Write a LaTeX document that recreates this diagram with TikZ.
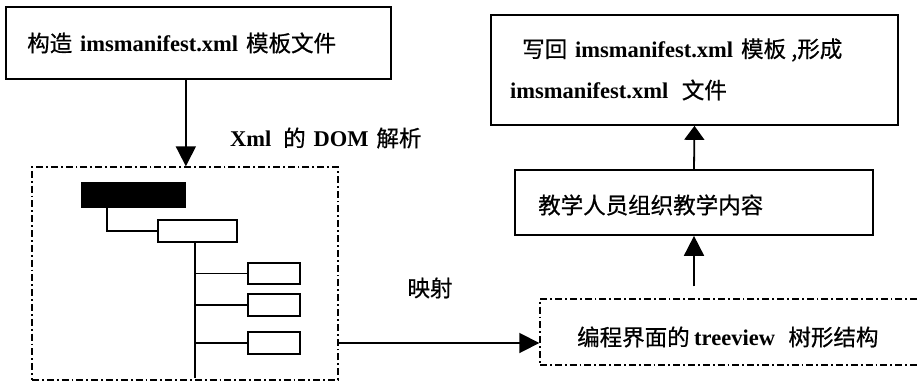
\documentclass[tikz,border=0pt]{standalone}
\usepackage{fontspec}
\setmainfont{Liberation Serif}
\newfontfamily\cjk{Noto Sans CJK SC}[FakeBold=0.6]
\usetikzlibrary{arrows.meta}
\newcommand{\lat}[1]{\hspace{0.35em}{\rmfamily\bfseries #1}\hspace{0.35em}}
\begin{document}
\begin{tikzpicture}[x=1pt,y=-1pt,
  box/.style={draw, line width=1.7pt, rectangle, inner sep=0pt},
  ddbox/.style={draw, line width=1.4pt, rectangle, inner sep=0pt,
    dash pattern=on 7pt off 3pt on 1.8pt off 3pt},
  tbox/.style={draw, line width=1.7pt, rectangle, inner sep=0pt},
  tline/.style={line width=1.8pt},
  arr/.style={line width=1.8pt, -{Triangle[length=20pt,width=20pt]}},
  lbl/.style={font=\cjk\fontsize{22.5}{27}\selectfont, inner sep=0pt, anchor=west},
]
\useasboundingbox (0,0) rectangle (918,391);
\fill[white] (0,0) rectangle (918,391);

% top-left box
\node[box, minimum width=385pt, minimum height=72pt] (b1) at (198.5,43) {};
\node[lbl] (t1) at (27,43) {构造\lat{imsmanifest.xml}模板文件};

% DOM box
\node[ddbox, minimum width=306pt, minimum height=213pt] (dom) at (185,273.5) {};
\node[box, fill=black, minimum width=103pt, minimum height=24pt] (root) at (133.5,195) {};
\node[tbox, minimum width=79pt, minimum height=22pt] (c1) at (197.5,231) {};
\node[tbox, minimum width=52pt, minimum height=21pt] (l1) at (274,273.5) {};
\node[tbox, minimum width=52pt, minimum height=22pt] (l2) at (274,305) {};
\node[tbox, minimum width=52pt, minimum height=22pt] (l3) at (274,343) {};
\coordinate (trunk) at (195,378);
\draw[tline] (c1.west) -| ([xshift=26pt]root.south west);
\draw[tline] ([xshift=-2.5pt]c1.south) -- (trunk);
\draw[tline] (l1.west) -- (l1.west -| trunk);
\draw[tline] (l2.west) -- (l2.west -| trunk);
\draw[tline] (l3.west) -- (l3.west -| trunk);

\draw[arr] (b1.south -| root.east) -- (dom.north -| root.east);
\node[lbl] (xmldom) at (230,138) {{\rmfamily\bfseries Xml}\hspace{0.3em} 的\lat{DOM}解析};

% right column
\node[box, minimum width=407pt, minimum height=110pt] (wb) at (694.5,70) {};
\node[lbl] (w1) at (522,50) {写回\lat{imsmanifest.xml}模板 ,形成};
\node[lbl] (w2) at (510,90) {{\rmfamily\bfseries imsmanifest.xml}\hspace{0.6em}文件};

\node[box, minimum width=358pt, minimum height=65pt] (org) at (694,202.5) {};
\node[lbl] (o1) at (538,205) {教学人员组织教学内容};

\node[ddbox, minimum width=385pt, minimum height=66pt] (tv) at (732.5,332) {};
\node[lbl] (tvt) at (577,337) {编程界面的\hspace{0.2em}{\rmfamily\bfseries treeview}\hspace{0.6em}树形结构};

\draw[arr, -{Triangle[length=14pt,width=20pt]}] (org.north) -- (wb.south);
\draw[arr, shorten <=12pt] (org.south |- tv.north) -- (org.south);
\draw[arr] (dom.east |- l3) -- (tv.west |- l3);
\node[lbl, anchor=center] (map) at (430,288) {映射};
\end{tikzpicture}
\end{document}
